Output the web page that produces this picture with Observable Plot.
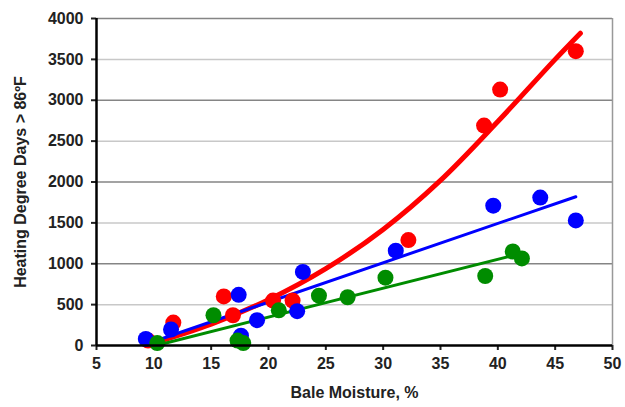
<!DOCTYPE html>
<html><head><meta charset="utf-8">
<script src="https://cdn.jsdelivr.net/npm/d3@7"></script>
<script src="https://cdn.jsdelivr.net/npm/@observablehq/plot@0.6"></script>
<style>body{margin:0;background:#fff}</style>
</head><body><div id="chart"></div>
<script>
// Observed points (Bale moisture %, heating degree days > 86°F)
const redX = [9.5, 11.7, 16.1, 16.9, 20.4, 22.1, 32.2, 38.8, 40.2, 46.8];
const redY = [60, 280, 600, 370, 550, 550, 1290, 2690, 3130, 3600];
const blueX = [9.3, 11.5, 17.4, 17.6, 19.0, 22.5, 23.0, 31.1, 39.6, 43.7, 46.8];
const blueY = [80, 196, 620, 120, 310, 420, 900, 1160, 1710, 1810, 1530];
const greenX = [10.3, 15.2, 17.3, 17.8, 20.9, 24.4, 26.9, 30.2, 38.9, 41.3, 42.1];
const greenY = [30, 370, 60, 30, 430, 610, 590, 830, 850, 1150, 1065];
// Trend lines
const redTrendX = [10, 15, 20, 25, 30, 35, 40, 45, 47.2];
const redTrendY = [30, 260, 560, 940, 1420, 2020, 2740, 3500, 3820];
const blueTrendX = [9.8, 46.8];
const blueTrendY = [40, 1820];
const greenTrendX = [10.2, 41.3];
const greenTrendY = [0, 1100];
const xTicks = [5, 10, 15, 20, 25, 30, 35, 40, 45, 50];
const yTicks = [0, 500, 1000, 1500, 2000, 2500, 3000, 3500, 4000];

const RED = "#ff0000", BLUE = "#0000ff", GREEN = "#008c00";
const pts = (xs, ys) => xs.map((x, i) => ({x, y: ys[i]}));
const grid = yTicks.filter(v => v > 0).map(v => ({v, major: v % 1000 === 0}));

const chart = Plot.plot({
  width: 625, height: 407,
  marginLeft: 96, marginRight: 13, marginTop: 18, marginBottom: 62,
  style: {fontFamily: "'Liberation Sans', Arial, sans-serif", fontWeight: "bold", fontSize: "16px", color: "#222"},
  x: {domain: [5, 50]},
  y: {domain: [0, 4000]},
  marks: [
    Plot.ruleY(grid.filter(d => !d.major), {y: "v", stroke: "#c8c8c8", strokeWidth: 1.5}),
    Plot.ruleY(grid.filter(d => d.major), {y: "v", stroke: "#858585", strokeWidth: 1.5}),
    Plot.ruleX([50], {stroke: "#999", strokeWidth: 1.5}),
    Plot.axisX({ticks: xTicks, tickFormat: d3.format("d"), tickSize: 5, tickPadding: 7, strokeWidth: 2, fontSize: 16,
      label: "Bale Moisture, %", labelAnchor: "center", labelArrow: "none", labelOffset: 52}),
    Plot.axisY({ticks: yTicks, tickFormat: d3.format("d"), tickSize: 5, tickPadding: 8, strokeWidth: 2, fontSize: 16,
      label: "Heating Degree Days > 86ºF", labelAnchor: "center", labelArrow: "none", labelOffset: 82}),
    Plot.line(pts(redTrendX, redTrendY), {x: "x", y: "y", stroke: RED, strokeWidth: 5, curve: "catmull-rom"}),
    Plot.line(pts(blueTrendX, blueTrendY), {x: "x", y: "y", stroke: BLUE, strokeWidth: 3}),
    Plot.line(pts(greenTrendX, greenTrendY), {x: "x", y: "y", stroke: GREEN, strokeWidth: 3}),
    Plot.dot(pts(redX, redY), {x: "x", y: "y", r: 8, fill: RED}),
    Plot.dot(pts(blueX, blueY), {x: "x", y: "y", r: 8, fill: BLUE}),
    Plot.dot(pts(greenX, greenY), {x: "x", y: "y", r: 8, fill: GREEN}),
    Plot.ruleX([5], {stroke: "#000", strokeWidth: 2.5}),
    Plot.ruleY([0], {stroke: "#000", strokeWidth: 2.5})
  ]
});
document.getElementById("chart").appendChild(chart);
</script>
</body></html>
